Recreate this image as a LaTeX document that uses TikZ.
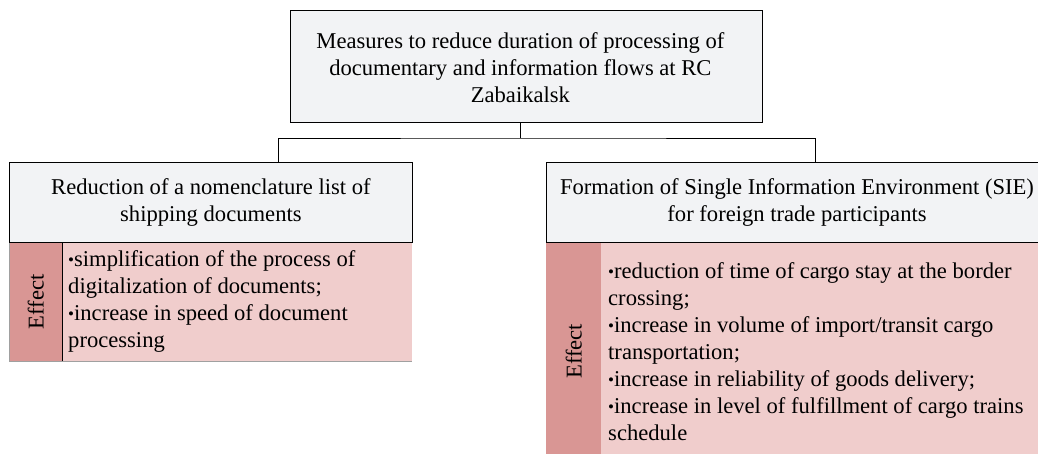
\documentclass[tikz,border=0pt]{standalone}
\usepackage{fontspec}
\setmainfont{Liberation Serif}
\definecolor{hdrfill}{HTML}{F2F3F5}
\definecolor{effcol}{HTML}{D99694}
\definecolor{effbody}{HTML}{F0CDCC}
\definecolor{edgegrey}{HTML}{A0A0A0}
\newcommand{\bul}{{\fontsize{17}{17}\selectfont\raisebox{0.12ex}{•}}}
\begin{document}
\begin{tikzpicture}[x=1pt,y=-1pt,
  txt/.style={font=\fontsize{22.6}{27}\selectfont, inner sep=0pt},
  hdr/.style={draw=black, line width=0.8pt, fill=hdrfill, anchor=north west, inner sep=0pt},
  effcolbox/.style={fill=effcol, anchor=north west, inner sep=0pt},
  effbox/.style={fill=effbody, anchor=north west, inner sep=0pt},
  link/.style={draw=black, line width=0.8pt}
]
\useasboundingbox (0,0) rectangle (1038,454);
\begin{scope}
\clip (0,0) rectangle (1038,454);

% top measure box
\node[hdr, minimum width=472pt, minimum height=112pt] (top) at (290,10) {};
\node[txt, align=center] (toptxt) at ([xshift=-6pt,yshift=-1pt]top.center)
  {Measures to reduce duration of processing of\\documentary and information flows at RC\\Zabaikalsk};

% left branch
\node[effcolbox, minimum width=53pt, minimum height=119pt] (leff) at (9,242) {};
\node[effbox, minimum width=350pt, minimum height=119pt] (lbody) at (62,242) {};
\draw[edgegrey, line width=0.6pt] (leff.north west) -- (leff.south west) -- (lbody.south east);
\draw[black, line width=0.6pt] (leff.north east) -- (leff.south east);
\node[hdr, minimum width=403pt, minimum height=80pt] (lhead) at (9,162) {};
\node[txt, align=center] (lheadtxt) at (lhead.center)
  {Reduction of a nomenclature list of\\shipping documents};
\node[txt, rotate=90] (lefftxt) at (leff.center) {Effect};
\node[txt, align=left, anchor=west] (lbodytxt) at ([xshift=6pt]lbody.west)
  {\bul simplification of the process of\\digitalization of documents;\\\bul increase in speed of document\\processing};

% right branch
\node[effcolbox, minimum width=55pt, minimum height=218pt] (reff) at (546,242) {};
\node[effbox, minimum width=460pt, minimum height=218pt] (rbody) at (601,242) {};
\node[hdr, minimum width=504pt, minimum height=80pt] (rhead) at (546,162) {};
\node[txt, align=center] (rheadtxt) at (797,202)
  {Formation of Single Information Environment (SIE)\\for foreign trade participants};
\node[txt, rotate=90] (refftxt) at (reff.center) {Effect};
\node[txt, align=left, anchor=west] (rbodytxt) at ([xshift=7pt]rbody.west)
  {\bul reduction of time of cargo stay at the border\\crossing;\\\bul increase in volume of import/transit cargo\\transportation;\\\bul increase in reliability of goods delivery;\\\bul increase in level of fulfillment of cargo trains\\schedule};

% connectors
\coordinate (fork) at ([xshift=-6pt]top.south |- 0,138);
\draw[link] ([xshift=-6pt]top.south) -- (fork);
\draw[link] ([xshift=269pt]lhead.north west) |- (fork) -| ([xshift=269pt]rhead.north west);
\end{scope}
\end{tikzpicture}
\end{document}
